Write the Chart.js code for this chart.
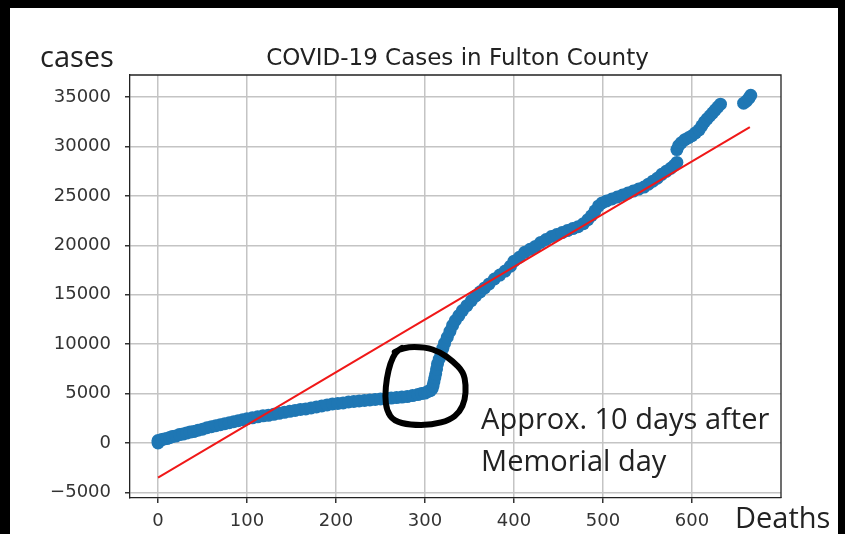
<!DOCTYPE html>
<html>
<head>
<meta charset="utf-8">
<script src="https://cdn.jsdelivr.net/npm/chart.js@4.4.0/dist/chart.umd.min.js"></script>
<style>
  html, body { margin: 0; padding: 0; background: #000; }
  canvas { display: block; }
</style>
</head>
<body>
<canvas id="chart" width="845" height="534"></canvas>
<script>
// --- values ---
const deaths = [
  0, 0, 2, 4, 7, 10, 13, 16, 20, 24, 28, 32, 36, 40, 45, 50, 55, 60, 65, 70,
  75, 80, 85, 90, 95, 100, 106, 112, 118, 124, 130, 136, 142, 148, 154, 160, 166, 172, 178, 184,
  190, 196, 202, 208, 214, 220, 226, 232, 238, 244, 250, 256, 262, 268, 274, 280, 286, 292, 296, 300,
  303, 306, 308, 309, 310, 311, 312, 313, 314, 316, 318, 320, 322, 325, 328, 331, 334, 338, 342, 347,
  352, 357, 362, 367, 372, 378, 384, 390, 396, 400, 406, 412, 418, 424, 430, 436, 442, 448, 454, 460,
  466, 472, 478, 483, 487, 491, 495, 499, 504, 510, 516, 522, 528, 534, 540, 546, 551, 556, 561, 566,
  571, 576, 580, 583,
  583, 585, 588, 592, 596, 600, 604, 608, 611, 614, 617, 620, 623, 626, 629, 632,
  658, 661, 664, 666
];
const cases = [
  0, 250, 200, 350, 400, 450, 550, 650, 700, 850, 900, 1000, 1100, 1150, 1300, 1400, 1550, 1650, 1750, 1850,
  1950, 2050, 2150, 2250, 2350, 2450, 2550, 2650, 2750, 2800, 2900, 3000, 3100, 3200, 3300, 3400, 3450, 3550, 3650, 3750,
  3850, 3950, 4000, 4050, 4150, 4200, 4250, 4300, 4350, 4400, 4450, 4500, 4550, 4600, 4650, 4700, 4800, 4900, 5000, 5050,
  5200, 5300, 5500, 5800, 6200, 6600, 7000, 7500, 8000, 8500, 9000, 9600, 10100, 10700, 11300, 11900, 12400, 12900, 13400, 13900,
  14400, 14900, 15300, 15700, 16100, 16600, 17000, 17400, 17900, 18400, 18800, 19300, 19600, 19900, 20300, 20600, 20900, 21100, 21300, 21500,
  21700, 21900, 22200, 22600, 23000, 23500, 24000, 24300, 24500, 24700, 24900, 25100, 25300, 25500, 25700, 25900, 26200, 26500, 26800, 27200,
  27500, 27800, 28100, 28400,
  29700, 30100, 30400, 30700, 30900, 31100, 31400, 31700, 32100, 32500, 32800, 33100, 33400, 33700, 34000, 34300,
  34400, 34600, 34900, 35200
];
// fitted line end points
const fitDeaths = [0, 665];
const fitCases = [-3500, 31980];

const xTicks = [0, 100, 200, 300, 400, 500, 600];
const yTicks = [-5000, 0, 5000, 10000, 15000, 20000, 25000, 30000, 35000];

const chartTitle = 'COVID-19 Cases in Fulton County';
const yLabel = 'cases';
const xLabel = 'Deaths';
const noteLines = ['Approx. 10 days after', 'Memorial day'];
const noteDeaths = [363, 363];
const noteCases = [1420, -2830];

// hand drawn loop around the bend (data units)
const loopDeaths = [266, 276, 300, 317, 331, 343, 346, 345, 339, 328, 308, 283, 265, 257, 255, 257, 261, 267, 274];
const loopCases = [9210, 9720, 9720, 9210, 8300, 7190, 5870, 4350, 3140, 2330, 1820, 1820, 2230, 3240, 4760, 6580, 8100, 9210, 9620];

const labelFont = '"Open Sans", sans-serif';
const mplFont = '"DejaVu Sans", sans-serif';

const pagePlugin = {
  id: 'page',
  beforeDraw(chart) {
    const ctx = chart.ctx;
    ctx.save();
    ctx.fillStyle = '#000';
    ctx.fillRect(0, 0, chart.width, chart.height);
    ctx.fillStyle = '#fff';
    ctx.fillRect(10, 8, 828, chart.height - 8);
    ctx.restore();
  },
  beforeDatasetsDraw(chart) {
    // top and right spines
    const { ctx, chartArea: a } = chart;
    ctx.save();
    ctx.strokeStyle = '#222';
    ctx.lineWidth = 1.3;
    ctx.beginPath();
    ctx.moveTo(a.left, a.top);
    ctx.lineTo(a.right, a.top);
    ctx.lineTo(a.right, a.bottom);
    ctx.stroke();
    ctx.restore();
  },
  afterDraw(chart) {
    const { ctx, chartArea: a, scales: { x, y } } = chart;
    ctx.save();
    // title
    ctx.fillStyle = '#222';
    ctx.font = '23px ' + mplFont;
    ctx.textAlign = 'center';
    ctx.textBaseline = 'alphabetic';
    ctx.fillText(chartTitle, (a.left + a.right) / 2 + 2, a.top - 10);
    // axis labels
    ctx.font = '29px ' + labelFont;
    ctx.textAlign = 'left';
    ctx.fillText(yLabel, 40, 67);
    ctx.fillText(xLabel, 735, 528);
    // note
    noteLines.forEach((t, i) => {
      ctx.fillText(t, x.getPixelForValue(noteDeaths[i]), y.getPixelForValue(noteCases[i]));
    });
    // loop
    const pts = loopDeaths.map((d, i) => [x.getPixelForValue(d), y.getPixelForValue(loopCases[i])]);
    ctx.strokeStyle = '#000';
    ctx.lineWidth = 6;
    ctx.lineJoin = 'round';
    ctx.lineCap = 'round';
    ctx.beginPath();
    ctx.moveTo(pts[0][0], pts[0][1]);
    for (let i = 1; i < pts.length - 1; i++) {
      const mx = (pts[i][0] + pts[i + 1][0]) / 2;
      const my = (pts[i][1] + pts[i + 1][1]) / 2;
      ctx.quadraticCurveTo(pts[i][0], pts[i][1], mx, my);
    }
    ctx.lineTo(pts[pts.length - 1][0], pts[pts.length - 1][1]);
    ctx.stroke();
    ctx.restore();
  }
};

const gridOpts = {
  color: '#c4c4c4',
  lineWidth: 1.5,
  tickColor: '#333',
  tickLength: 5,
  drawTicks: true
};

new Chart(document.getElementById('chart'), {
  type: 'scatter',
  data: {
    datasets: [{
      type: 'line',
      data: fitDeaths.map((d, i) => ({ x: d, y: fitCases[i] })),
      borderColor: '#f01818',
      borderWidth: 2,
      pointRadius: 0,
      fill: false,
      order: 0
    }, {
      data: deaths.map((d, i) => ({ x: d, y: cases[i] })),
      backgroundColor: '#1f77b4',
      borderWidth: 0,
      pointRadius: 6.5,
      order: 1
    }]
  },
  options: {
    responsive: false,
    devicePixelRatio: 1,
    animation: false,
    layout: { padding: { top: 75, right: 64, bottom: 0, left: 0 } },
    plugins: { legend: { display: false }, tooltip: { enabled: false } },
    scales: {
      x: {
        type: 'linear',
        min: -31.5,
        max: 700,
        afterBuildTicks: s => { s.ticks = xTicks.map(v => ({ value: v })); },
        afterFit: s => { s.height = 36; },
        grid: gridOpts,
        border: { display: true, color: '#222', width: 1.3 },
        ticks: { color: '#333', font: { family: mplFont, size: 18 }, padding: 8, maxRotation: 0 }
      },
      y: {
        type: 'linear',
        min: -5570,
        max: 37250,
        afterBuildTicks: s => { s.ticks = yTicks.map(v => ({ value: v })); },
        afterFit: s => { s.width = 130; },
        grid: gridOpts,
        border: { display: true, color: '#222', width: 1.3 },
        ticks: {
          color: '#333',
          font: { family: mplFont, size: 18 },
          padding: 14,
          callback: v => (v < 0 ? '\u2212' + Math.abs(v) : String(v))
        }
      }
    }
  },
  plugins: [pagePlugin]
});
</script>
</body>
</html>
